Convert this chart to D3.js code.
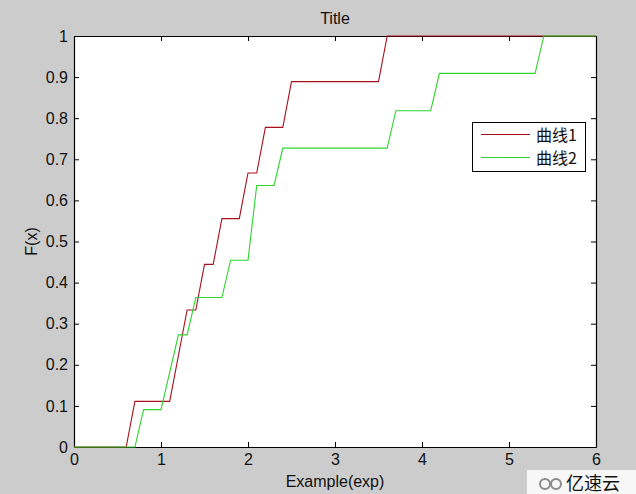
<!DOCTYPE html>
<html>
<head>
<meta charset="utf-8">
<script src="https://cdn.jsdelivr.net/npm/d3@7"></script>
<style>
  html, body { margin: 0; padding: 0; background: #cccccc; }
  svg { display: block; }
  text { font-family: "Liberation Sans", Arial, Helvetica, sans-serif; fill: #111; }
  .cjk { font-family: "Noto Sans CJK SC", "Liberation Sans", sans-serif; }
</style>
</head>
<body>
<svg id="chart" width="636" height="494"></svg>
<script>
// ---- data ----
const seriesNames = ["曲线1", "曲线2"];
const seriesColors = ["#a8101c", "#2ed32e"];
// polyline vertices: x values and F(x) values
const curve1X = [0, 0.6, 0.7, 1.1, 1.3, 1.4, 1.5, 1.6, 1.7, 1.9, 2.0, 2.1, 2.2, 2.4, 2.5, 3.5, 3.6, 6];
const curve1F = [0, 0, 1/9, 1/9, 3/9, 3/9, 4/9, 4/9, 5/9, 5/9, 6/9, 6/9, 7/9, 7/9, 8/9, 8/9, 1, 1];
const curve2X = [0, 0.7, 0.8, 1.0, 1.2, 1.3, 1.4, 1.7, 1.8, 2.0, 2.1, 2.3, 2.4, 3.6, 3.7, 4.1, 4.2, 5.3, 5.4, 6];
const curve2F = [0, 0, 1/11, 1/11, 3/11, 3/11, 4/11, 4/11, 5/11, 5/11, 7/11, 7/11, 8/11, 8/11, 9/11, 9/11, 10/11, 10/11, 1, 1];
const xTicks = [0, 1, 2, 3, 4, 5, 6];
const yTicks = [0, 0.1, 0.2, 0.3, 0.4, 0.5, 0.6, 0.7, 0.8, 0.9, 1];
const yTickLabels = ["0", "0.1", "0.2", "0.3", "0.4", "0.5", "0.6", "0.7", "0.8", "0.9", "1"];
const titleText = "Title";
const xLabel = "Example(exp)";
const yLabel = "F(x)";
const watermarkText = "亿速云";

// ---- layout ----
const W = 636, H = 494;
const mLeft = 74, mRight = 596, mTop = 36, mBottom = 447;
const svg = d3.select("#chart");

svg.append("rect").attr("width", W).attr("height", H).attr("fill", "#cccccc");

const x = d3.scaleLinear().domain([0, 6]).range([mLeft, mRight]);
const y = d3.scaleLinear().domain([0, 1]).range([mBottom, mTop]);

// plot background
svg.append("rect").attr("x", mLeft).attr("y", mTop)
  .attr("width", mRight - mLeft).attr("height", mBottom - mTop).attr("fill", "#ffffff");

// axes: ticks pointing inward, labels outside
const tickLen = 5;
const fontSize = 16;

const xAxisB = d3.axisBottom(x).tickValues(xTicks).tickSizeInner(-tickLen).tickSizeOuter(0).tickPadding(7).tickFormat(d3.format("d"));
const gxb = svg.append("g").attr("transform", `translate(0,${mBottom})`).call(xAxisB);
const xAxisT = d3.axisTop(x).tickValues(xTicks).tickSizeInner(-tickLen).tickSizeOuter(0).tickFormat("");
const gxt = svg.append("g").attr("transform", `translate(0,${mTop})`).call(xAxisT);

const yAxisL = d3.axisLeft(y).tickValues(yTicks).tickSizeInner(-tickLen).tickSizeOuter(0).tickPadding(6)
  .tickFormat((d, i) => yTickLabels[i]);
const gyl = svg.append("g").attr("transform", `translate(${mLeft},0)`).call(yAxisL);
const yAxisR = d3.axisRight(y).tickValues(yTicks).tickSizeInner(-tickLen).tickSizeOuter(0).tickFormat("");
const gyr = svg.append("g").attr("transform", `translate(${mRight},0)`).call(yAxisR);

[gxb, gxt, gyl, gyr].forEach(g => {
  g.select(".domain").attr("stroke", "#000").attr("stroke-width", 1.2);
  g.selectAll(".tick line").attr("stroke", "#000").attr("stroke-width", 1);
  g.selectAll(".tick text").attr("font-size", fontSize)
    .attr("font-family", '"Liberation Sans", Arial, sans-serif').attr("fill", "#111");
});

// curves
const line = d3.line().x(d => x(d[0])).y(d => y(d[1]));
const curves = [
  d3.zip(curve1X, curve1F),
  d3.zip(curve2X, curve2F)
];
curves.forEach((pts, i) => {
  svg.append("path").datum(pts)
    .attr("d", line)
    .attr("fill", "none")
    .attr("stroke", seriesColors[i])
    .attr("stroke-width", 1.1);
});

// title and labels
svg.append("text").attr("x", (mLeft + mRight) / 2).attr("y", 24).attr("text-anchor", "middle")
  .attr("font-size", fontSize).text(titleText);
svg.append("text").attr("x", (mLeft + mRight) / 2).attr("y", 487).attr("text-anchor", "middle")
  .attr("font-size", fontSize).text(xLabel);
svg.append("text").attr("transform", `translate(37,${(mTop + mBottom) / 2}) rotate(-90)`)
  .attr("text-anchor", "middle").attr("font-size", fontSize).text(yLabel);

// legend
const lg = svg.append("g");
lg.append("rect").attr("x", 472.5).attr("y", 122.5).attr("width", 113).attr("height", 49)
  .attr("fill", "#ffffff").attr("stroke", "#000").attr("stroke-width", 1);
seriesNames.forEach((name, i) => {
  const ly = 134.5 + i * 23;
  lg.append("line").attr("x1", 481).attr("x2", 530).attr("y1", ly).attr("y2", ly)
    .attr("stroke", seriesColors[i]).attr("stroke-width", 1.1);
  lg.append("text").attr("class", "cjk").attr("x", 536).attr("y", ly + 6)
    .attr("font-size", 16).attr("fill", "#111").text(name);
});

// watermark
const wm = svg.append("g");
wm.append("rect").attr("x", 527).attr("y", 470).attr("width", 109).attr("height", 24).attr("fill", "#f7f7f7");
wm.append("circle").attr("cx", 545).attr("cy", 484).attr("r", 5).attr("fill", "none").attr("stroke", "#8a8a8a").attr("stroke-width", 2);
wm.append("circle").attr("cx", 556).attr("cy", 484).attr("r", 5).attr("fill", "none").attr("stroke", "#8a8a8a").attr("stroke-width", 2);
wm.append("text").attr("class", "cjk").attr("x", 566).attr("y", 490).attr("font-size", 18)
  .attr("fill", "#8a8a8a").text(watermarkText);
</script>
</body>
</html>
